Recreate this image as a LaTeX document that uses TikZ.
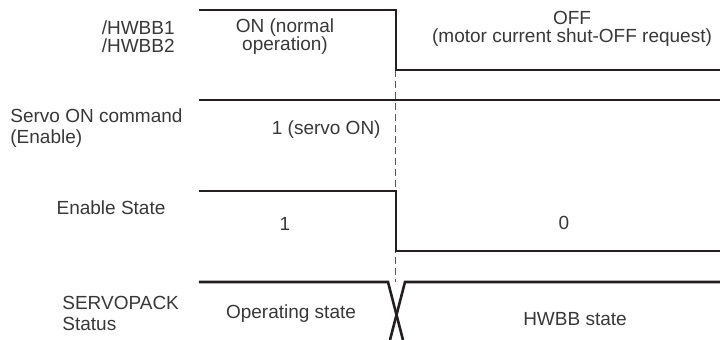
\documentclass[tikz,border=0pt]{standalone}
\usepackage{fontspec}
\setmainfont{Liberation Sans}
\usetikzlibrary{positioning}
\definecolor{sigline}{HTML}{231F20}
\definecolor{labeltext}{HTML}{383838}

\begin{document}
\begin{tikzpicture}[x=0.5pt, y=-0.5pt,
    every node/.style={font=\fontsize{9.5}{9}\selectfont, text=labeltext, inner sep=0pt, align=center},
    sig/.style={line width=1.3pt, color=sigline, line join=miter},
    guide/.style={line width=0.5pt, color=sigline!75, dash pattern=on 3.5pt off 2pt},
    lbl/.style={align=left, font=\fontsize{9.5}{10.5}\selectfont}
  ]
  \useasboundingbox (0,0) rectangle (720,340);

  % ---- instants de commutation -----------------------------------------
  \coordinate (hwoff) at (396,70);
  \coordinate (cross) at (396,282);

  % ---- ligne de repere en pointille -------------------------------------
  \draw[guide] (hwoff) -- (cross);

  % ---- chronogrammes ---------------------------------------------------
  \draw[sig] (199,10) -- (396,10) -- (hwoff) -- (720,70);
  \draw[sig] (199,100) -- (720,100);
  \draw[sig] (199,191) -- (396,191) -- (396,251) -- (720,251);
  \draw[sig] (199,282) -- (388,282) -- (403,340);
  \draw[sig] (720,282) -- (405,282) -- (390,340);

  % ---- noms des signaux ------------------------------------------------
  \node[anchor=east, align=right] (hwbb) at (175,37) {/HWBB1\\/HWBB2};
  \node[lbl, anchor=west] (svon) at (10,128) {Servo ON command\\(Enable)};
  \node (enst) at (111,208) {Enable State};
  \node[lbl, anchor=west] (spst) at (62,313) {SERVOPACK\\Status};

  % ---- etats -----------------------------------------------------------
  \node (hwon) at (285,37) {ON (normal\\operation)};
  \node (hwoffl) at (572,29) {OFF\\(motor current shut-OFF request)};
  \node[anchor=east] (svonv) at (381,130) {1 (servo ON)};
  \node (enone) at (285,224) {1};
  \node (enzero) at (564,223) {0};
  \node (opst) at (291,314) {Operating state};
  \node (hwbbst) at (575,319) {HWBB state};

\end{tikzpicture}
\end{document}
